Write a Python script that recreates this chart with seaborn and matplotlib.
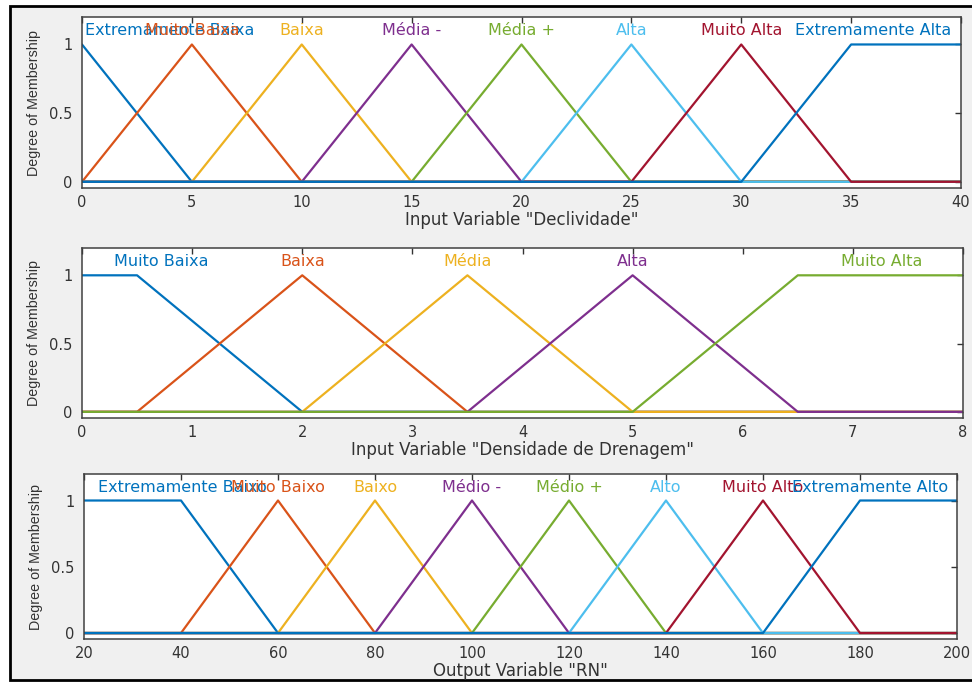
import matplotlib
matplotlib.use("Agg")
import matplotlib.pyplot as plt
import seaborn as sns
import pandas as pd

# membership functions: trapezoid corners [a, b, c, d] (triangle when b == c)
decl_names = ["Extremamente Baixa", "Muito Baixa", "Baixa", "Média -", "Média +",
              "Alta", "Muito Alta", "Extremamente Alta"]
decl_corners = [[0, 0, 0, 5], [0, 5, 5, 10], [5, 10, 10, 15], [10, 15, 15, 20],
                [15, 20, 20, 25], [20, 25, 25, 30], [25, 30, 30, 35], [30, 35, 40, 40]]
decl_label_x = [4.0, 5, 10, 15, 20, 25, 30, 36.0]
decl_ticks = [0, 5, 10, 15, 20, 25, 30, 35, 40]

dren_names = ["Muito Baixa", "Baixa", "Média", "Alta", "Muito Alta"]
dren_corners = [[0, 0, 0.5, 2], [0.5, 2, 2, 3.5], [2, 3.5, 3.5, 5],
                [3.5, 5, 5, 6.5], [5, 6.5, 8, 8]]
dren_label_x = [0.72, 2, 3.5, 5, 7.26]
dren_ticks = [0, 1, 2, 3, 4, 5, 6, 7, 8]

rn_names = ["Extremamente Baixo", "Muito Baixo", "Baixo", "Médio -", "Médio +",
            "Alto", "Muito Alto", "Extremamente Alto"]
rn_corners = [[20, 20, 40, 60], [40, 60, 60, 80], [60, 80, 80, 100], [80, 100, 100, 120],
              [100, 120, 120, 140], [120, 140, 140, 160], [140, 160, 160, 180],
              [160, 180, 200, 200]]
rn_label_x = [40.2, 60, 80, 100, 120, 140, 160, 182]
rn_ticks = [20, 40, 60, 80, 100, 120, 140, 160, 180, 200]

y_ticks = [0, 0.5, 1]
y_ticklabels = ["0", "0.5", "1"]

colors = ["#0072BD", "#D95319", "#EDB120", "#7E2F8E", "#77AC30", "#4DBEEE", "#A2142F"]

sns.set_style("white")
plt.rcParams["font.family"] = ["DejaVu Sans"]

ink = "#333333"


def mf_vertices(corners, lo, hi):
    a, b, c, d = corners
    xs, ys = [], []
    if a > lo:
        xs.append(lo); ys.append(0)
    if a < b:
        xs.append(a); ys.append(0)
    xs += [b, c]; ys += [1, 1]
    if c < d:
        xs.append(d); ys.append(0)
    if d < hi:
        xs.append(hi); ys.append(0)
    return xs, ys


def draw_var(ax, names, corners, label_x, ticks, xlabel):
    lo, hi = ticks[0], ticks[-1]
    for i, (name, cr) in enumerate(zip(names, corners)):
        xs, ys = mf_vertices(cr, lo, hi)
        df = pd.DataFrame({"x": xs, "y": ys})
        col = colors[i % len(colors)]
        sns.lineplot(data=df, x="x", y="y", ax=ax, color=col, lw=1.6,
                     sort=False, estimator=None, legend=False)
        ax.text(label_x[i], 1.1, name, color=col, ha="center", va="center",
                fontsize=11.5)
    ax.set_xlim(lo, hi)
    ax.set_ylim(-0.045, 1.2)
    ax.set_xticks(ticks)
    ax.set_xticklabels([str(t) for t in ticks])
    ax.set_yticks(y_ticks)
    ax.set_yticklabels(y_ticklabels)
    ax.tick_params(direction="in", length=4, width=1, top=True, right=True,
                   labelsize=10.5, colors=ink, pad=5)
    ax.tick_params(axis="y", pad=7)
    for s in ax.spines.values():
        s.set_color("#404040")
        s.set_linewidth(1.1)
    ax.set_xlabel(xlabel, fontsize=12, color=ink, labelpad=1)
    ax.set_ylabel("Degree of Membership", fontsize=10.3, color=ink, labelpad=6,
                  family=["Liberation Sans"])
    ax.set_facecolor("white")


fig = plt.figure(figsize=(9.72, 6.82), dpi=100, facecolor="white")
frame = plt.Rectangle((10 / 972, 1 - 680 / 682), 1.1, 674 / 682,
                      transform=fig.transFigure, facecolor="#f0f0f0",
                      edgecolor="black", lw=2, zorder=-1)
fig.patches.append(frame)

ax1 = fig.add_axes([82 / 972, 1 - 188 / 682, 879 / 972, 171 / 682])
ax2 = fig.add_axes([82 / 972, 1 - 418 / 682, 881 / 972, 170 / 682])
ax3 = fig.add_axes([84 / 972, 1 - 639 / 682, 873 / 972, 165 / 682])

draw_var(ax1, decl_names, decl_corners, decl_label_x, decl_ticks,
         'Input Variable "Declividade"')
draw_var(ax2, dren_names, dren_corners, dren_label_x, dren_ticks,
         'Input Variable "Densidade de Drenagem"')
draw_var(ax3, rn_names, rn_corners, rn_label_x, rn_ticks,
         'Output Variable "RN"')

fig.savefig("out.png", dpi=100, facecolor=fig.get_facecolor())
